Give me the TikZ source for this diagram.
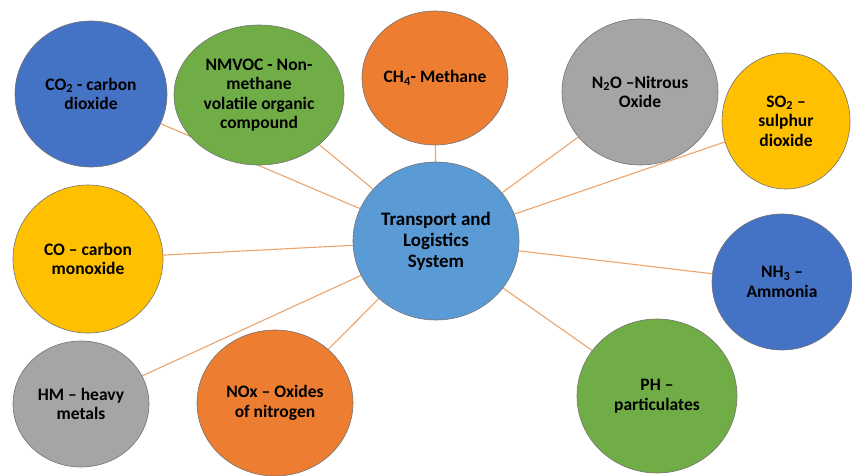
\documentclass[tikz,border=0pt]{standalone}
\usepackage{fontspec}
\setmainfont{Carlito}
\usetikzlibrary{shapes.geometric,backgrounds}

\definecolor{hubblue}{HTML}{5B9BD5}
\definecolor{darkblue}{HTML}{4472C4}
\definecolor{leafgreen}{HTML}{70AD47}
\definecolor{burnorange}{HTML}{ED7D31}
\definecolor{midgray}{HTML}{A5A5A5}
\definecolor{gold}{HTML}{FFC000}
\definecolor{linkcol}{HTML}{EBA46C}

\begin{document}
\begin{tikzpicture}[x=1pt,y=-1pt,
    every node/.style={ellipse, draw=black!55, line width=0.6pt, inner sep=0pt, align=center,
      font=\fontsize{17.5}{19.5}\selectfont\bfseries},
    link/.style={draw=linkcol, line width=1.1pt}]
    \useasboundingbox (0,0) rectangle (852,476);

    \node[fill=hubblue, minimum width=166pt, minimum height=158pt,
      font=\fontsize{19}{21}\selectfont\bfseries] (hub) at (436,241) {Transport and\\Logistics\\System};

    \node[fill=darkblue, minimum width=152pt, minimum height=146pt] (co2) at (91,94) {CO\textsubscript{2} - carbon\\dioxide};
    \node[fill=leafgreen, minimum width=170pt, minimum height=140pt] (nmvoc) at (259,95) {NMVOC - Non-\\methane\\volatile organic\\compound};
    \node[fill=burnorange, minimum width=146pt, minimum height=134pt] (ch4) at (435,78) {CH\textsubscript{4}- Methane};
    \node[fill=midgray, minimum width=156pt, minimum height=146pt] (n2o) at (640,92) {N\textsubscript{2}O –Nitrous\\Oxide};
    \node[fill=gold, minimum width=128pt, minimum height=136pt] (so2) at (786,121) {SO\textsubscript{2} –\\sulphur\\dioxide};
    \node[fill=gold, minimum width=150pt, minimum height=148pt] (co) at (88,259) {CO – carbon\\monoxide};
    \node[fill=darkblue, minimum width=140pt, minimum height=136pt] (nh3) at (782,282) {NH\textsubscript{3} –\\Ammonia};
    \node[fill=midgray, minimum width=136pt, minimum height=126pt] (hm) at (81,404) {HM – heavy\\metals};
    \node[fill=burnorange, minimum width=156pt, minimum height=146pt] (nox) at (275,403) {NOx – Oxides\\of nitrogen};
    \node[fill=leafgreen, minimum width=160pt, minimum height=154pt] (ph) at (657,396) {PH –\\particulates};

    \begin{pgfonlayer}{background}
    \foreach \leaf in {co2,nmvoc,ch4,n2o,so2,co,nh3,hm,nox,ph}
        \draw[link] (hub) -- (\leaf);
    \end{pgfonlayer}

\end{tikzpicture}
\end{document}
